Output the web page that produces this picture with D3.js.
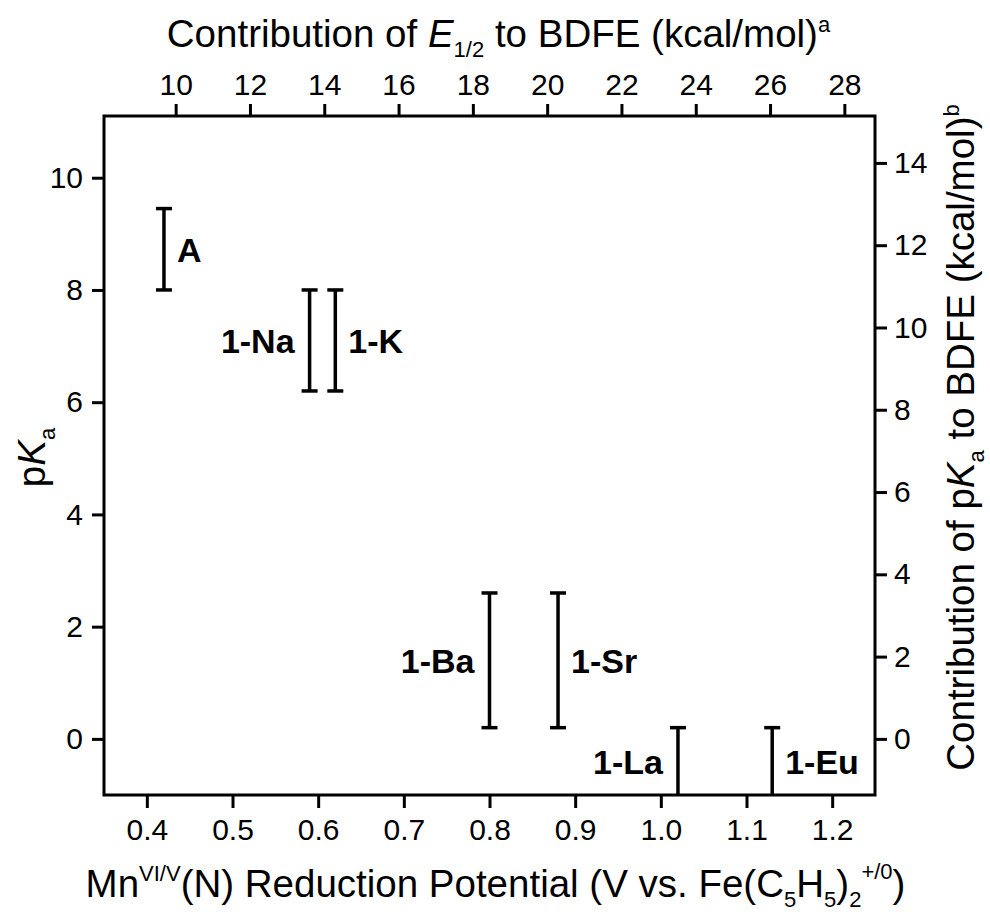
<!DOCTYPE html>
<html>
<head>
<meta charset="utf-8">
<script src="https://cdn.jsdelivr.net/npm/d3@7"></script>
<style>
  html, body { margin: 0; padding: 0; background: #fff; }
  svg { display: block; font-family: "Liberation Sans", Arial, Helvetica, sans-serif; }
</style>
</head>
<body>
<svg id="chart" width="990" height="912"></svg>
<script>
// ---- data ----
const compounds   = ["A", "1-Na", "1-K", "1-Ba", "1-Sr", "1-La", "1-Eu"];
const potentials  = [0.42, 0.59, 0.62, 0.80, 0.88, 1.02, 1.13];   // V vs Fc+/0
const pKaLow      = [8.0, 6.2, 6.2, 0.2, 0.2, -2.0, -2.0];
const pKaHigh     = [9.45, 8.0, 8.0, 2.6, 2.6, 0.2, 0.2];
const labelSide   = ["right", "left", "right", "left", "right", "left", "right"];

const xTicks      = [0.4, 0.5, 0.6, 0.7, 0.8, 0.9, 1.0, 1.1, 1.2];
const yTicks      = [0, 2, 4, 6, 8, 10];
const topTicks    = [10, 12, 14, 16, 18, 20, 22, 24, 26, 28];
const rightTicks  = [0, 2, 4, 6, 8, 10, 12, 14];

const E_TO_KCAL   = 23.06;   // kcal/mol per V
const PKA_TO_KCAL = 1.364;   // kcal/mol per pKa unit

// ---- layout ----
const svg = d3.select("#chart");
const L = 104, R = 875, T = 116, B = 795;
const xDom = [0.35, 1.25], yDom = [-1, 11.1];

const x = d3.scaleLinear().domain(xDom).range([L, R]);
const y = d3.scaleLinear().domain(yDom).range([B, T]);
const xTop = d3.scaleLinear().domain(xDom.map(v => v * E_TO_KCAL)).range([L, R]);
const yRight = d3.scaleLinear().domain(yDom.map(v => v * PKA_TO_KCAL)).range([B, T]);

const tickFont = 30;

function styleAxis(g) {
  g.select(".domain").remove();
  g.selectAll(".tick line").attr("stroke", "#000").attr("stroke-width", 3);
  g.selectAll(".tick text").attr("fill", "#000").style("font-size", tickFont + "px")
    .style("font-family", "\"Liberation Sans\", Arial, sans-serif");
}

svg.append("g").attr("transform", `translate(0,${B})`)
  .call(d3.axisBottom(x).tickValues(xTicks).tickFormat(d3.format(".1f")).tickSize(13).tickPadding(11))
  .call(styleAxis);

svg.append("g").attr("transform", `translate(${L},0)`)
  .call(d3.axisLeft(y).tickValues(yTicks).tickFormat(d3.format("d")).tickSize(12).tickPadding(9))
  .call(styleAxis);

svg.append("g").attr("transform", `translate(0,${T})`)
  .call(d3.axisTop(xTop).tickValues(topTicks).tickFormat(d3.format("d")).tickSize(12).tickPadding(9))
  .call(styleAxis);

svg.append("g").attr("transform", `translate(${R},0)`)
  .call(d3.axisRight(yRight).tickValues(rightTicks).tickFormat(d3.format("d")).tickSize(12).tickPadding(7))
  .call(styleAxis);

// ---- clip & error bars ----
svg.append("clipPath").attr("id", "plotclip")
  .append("rect").attr("x", L).attr("y", T).attr("width", R - L).attr("height", B - T);

const data = compounds.map((c, i) => ({
  name: c, x: potentials[i], lo: pKaLow[i], hi: pKaHigh[i], side: labelSide[i]
}));

const bars = svg.append("g").attr("clip-path", "url(#plotclip)");
const capW = 8;
data.forEach(d => {
  const g = bars.append("g").attr("stroke", "#000").attr("stroke-width", 3.5);
  g.append("line").attr("x1", x(d.x)).attr("x2", x(d.x)).attr("y1", y(d.lo)).attr("y2", y(d.hi));
  g.append("line").attr("x1", x(d.x) - capW).attr("x2", x(d.x) + capW).attr("y1", y(d.hi)).attr("y2", y(d.hi));
  g.append("line").attr("x1", x(d.x) - capW).attr("x2", x(d.x) + capW).attr("y1", y(d.lo)).attr("y2", y(d.lo));
});

// labels
data.forEach(d => {
  const visLo = Math.max(d.lo, yDom[0]);
  const mid = (visLo + d.hi) / 2;
  const right = d.side === "right";
  svg.append("text")
    .attr("x", x(d.x) + (right ? 13 : -15))
    .attr("y", y(mid))
    .attr("dy", "0.36em")
    .attr("text-anchor", right ? "start" : "end")
    .style("font-size", "34px").style("font-weight", "bold")
    .text(d.name);
});

// frame
svg.append("rect").attr("x", L).attr("y", T).attr("width", R - L).attr("height", B - T)
  .attr("fill", "none").attr("stroke", "#000").attr("stroke-width", 3);

// ---- axis titles ----
const titleSize = 38.5;
const smallSize = 22;
// top
const tt = svg.append("text").attr("x", (L + R) / 2 + 9).attr("y", 47)
  .attr("text-anchor", "middle").style("font-size", titleSize + "px");
tt.append("tspan").text("Contribution of ");
tt.append("tspan").style("font-style", "italic").text("E");
tt.append("tspan").attr("dy", 10).style("font-size", smallSize + "px").text("1/2");
tt.append("tspan").attr("dy", -10).text(" to BDFE (kcal/mol)");
tt.append("tspan").attr("dy", -15).style("font-size", smallSize + "px").text("a");

// bottom
const bt = svg.append("text").attr("x", (L + R) / 2 + 6).attr("y", 897)
  .attr("text-anchor", "middle").style("font-size", titleSize + "px");
bt.append("tspan").text("Mn");
bt.append("tspan").attr("dy", -16).style("font-size", smallSize + "px").text("VI/V");
bt.append("tspan").attr("dy", 16).text("(N) Reduction Potential (V vs. Fe(C");
bt.append("tspan").attr("dy", 10).style("font-size", smallSize + "px").text("5");
bt.append("tspan").attr("dy", -10).text("H");
bt.append("tspan").attr("dy", 10).style("font-size", smallSize + "px").text("5");
bt.append("tspan").attr("dy", -10).text(")");
bt.append("tspan").attr("dy", 10).style("font-size", smallSize + "px").text("2");
bt.append("tspan").attr("dy", -28).style("font-size", smallSize + "px").text("+/0");
bt.append("tspan").attr("dy", 18).text(")");

// left
const lt = svg.append("text").attr("transform", `translate(45,${(T + B) / 2 + 2}) rotate(-90)`)
  .attr("text-anchor", "middle").style("font-size", titleSize + "px");
lt.append("tspan").text("p");
lt.append("tspan").style("font-style", "italic").text("K");
lt.append("tspan").attr("dy", 10).style("font-size", smallSize + "px").text("a");

// right
const rt = svg.append("text").attr("transform", `translate(974,${(T + B) / 2 - 18}) rotate(-90)`)
  .attr("text-anchor", "middle").style("font-size", titleSize + "px");
rt.append("tspan").text("Contribution of p");
rt.append("tspan").style("font-style", "italic").text("K");
rt.append("tspan").attr("dy", 10).style("font-size", smallSize + "px").text("a");
rt.append("tspan").attr("dy", -10).text(" to BDFE (kcal/mol)");
rt.append("tspan").attr("dy", -15).style("font-size", smallSize + "px").text("b");
</script>
</body>
</html>
